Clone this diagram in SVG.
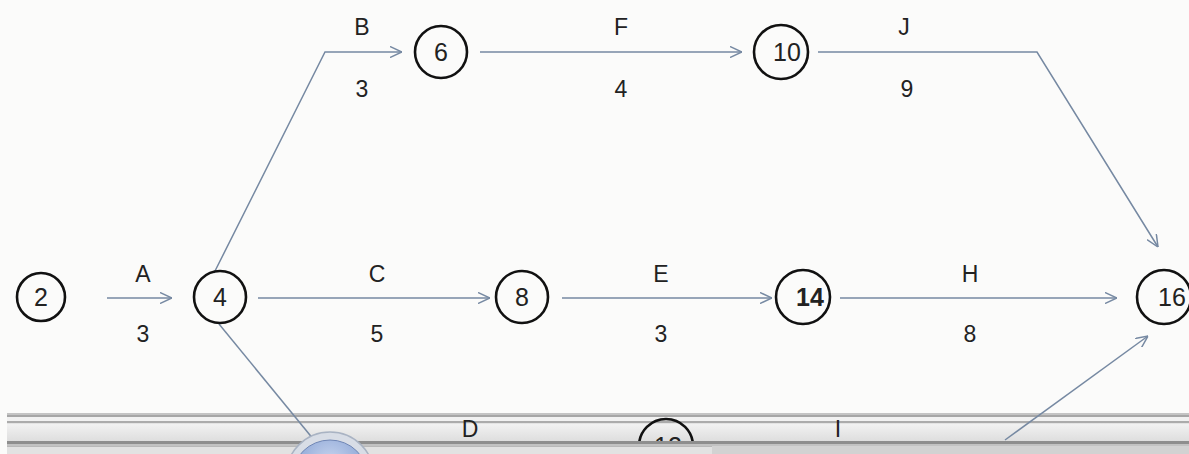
<svg xmlns="http://www.w3.org/2000/svg" width="1189" height="454" viewBox="0 0 1189 454">
<style>
.node circle{fill:none;stroke:#111;stroke-width:2.6}
.num{font-family:"Liberation Sans",Arial,sans-serif;font-size:25px;fill:#222;text-anchor:middle}
.lbl{font-family:"Liberation Sans",Arial,sans-serif;font-size:23px;fill:#222;text-anchor:middle}
.edge{fill:none;stroke:#7689a2;stroke-width:1.5}
</style>
<defs>
<marker id="ah" viewBox="0 0 12 12" refX="12" refY="6" markerWidth="12" markerHeight="12" markerUnits="userSpaceOnUse" orient="auto">
<path d="M0,0.5 L12,6 L0,11.5" fill="none" stroke="#7689a2" stroke-width="1.5"/>
</marker>
<linearGradient id="band" x1="0" y1="0" x2="0" y2="1">
<stop offset="0" stop-color="#f2f2f2"/><stop offset="1" stop-color="#dedede"/>
</linearGradient>
<radialGradient id="orb" cx="0.5" cy="0.3" r="0.6">
<stop offset="0" stop-color="#c9d6ef"/><stop offset="1" stop-color="#7f9bd0"/>
</radialGradient>
<clipPath id="clipTop"><rect x="0" y="0" width="1189" height="441"/></clipPath>
</defs>
<rect width="1189" height="454" fill="#fbfbfa"/>
<g id="bar-back">
<rect x="7" y="413" width="1182" height="2" fill="#c4c4c4"/>
<rect x="7" y="415" width="1182" height="2" fill="#a6a6a6"/>
<rect x="7" y="417" width="1182" height="4" fill="#f1f1f1"/>
<rect x="7" y="421" width="1182" height="2.5" fill="#ababab"/>
<rect x="7" y="423.5" width="1182" height="17.5" fill="url(#band)"/>
</g>
<g clip-path="url(#clipTop)">
<g id="connectors">
<line class="edge" x1="107" y1="298" x2="172" y2="298" marker-end="url(#ah)"/>
<polyline class="edge" points="214,273 325,52 402,52" marker-end="url(#ah)"/>
<line class="edge" x1="258" y1="298" x2="490" y2="298" marker-end="url(#ah)"/>
<line class="edge" x1="219" y1="324" x2="314" y2="440"/>
<line class="edge" x1="480" y1="52" x2="742" y2="52" marker-end="url(#ah)"/>
<polyline class="edge" points="818,52 1037,52 1158,247" marker-end="url(#ah)"/>
<line class="edge" x1="562" y1="298" x2="772" y2="298" marker-end="url(#ah)"/>
<line class="edge" x1="840" y1="298" x2="1117" y2="298" marker-end="url(#ah)"/>
<line class="edge" x1="1005" y1="440" x2="1148" y2="336" marker-end="url(#ah)"/>
</g>
<g id="labels">
<text class="lbl" x="143" y="282">A</text>
<text class="lbl" x="143" y="342">3</text>
<text class="lbl" x="362" y="35">B</text>
<text class="lbl" x="362" y="97">3</text>
<text class="lbl" x="621" y="35">F</text>
<text class="lbl" x="621" y="97">4</text>
<text class="lbl" x="904" y="35">J</text>
<text class="lbl" x="907" y="97">9</text>
<text class="lbl" x="377" y="282">C</text>
<text class="lbl" x="377" y="342">5</text>
<text class="lbl" x="661" y="282">E</text>
<text class="lbl" x="661" y="342">3</text>
<text class="lbl" x="970" y="282">H</text>
<text class="lbl" x="970" y="342">8</text>
<text class="lbl" x="470" y="437">D</text>
<text class="lbl" x="838" y="437">I</text>
</g>
<g id="n2" class="node"><circle cx="41" cy="297" r="24"/><text class="num" x="41" y="306">2</text></g>
<g id="n4" class="node"><circle cx="220" cy="297" r="26"/><text class="num" x="220" y="306">4</text></g>
<g id="n6" class="node"><circle cx="441" cy="52" r="26"/><text class="num" x="441" y="61">6</text></g>
<g id="n10" class="node"><circle cx="781" cy="52" r="27"/><text class="num" x="787" y="61">10</text></g>
<g id="n8" class="node"><circle cx="522" cy="297" r="26"/><text class="num" x="522" y="306">8</text></g>
<g id="n14" class="node"><circle cx="803" cy="297" r="27"/><text class="num" x="810" y="306" font-weight="bold">14</text></g>
<g id="n16" class="node"><circle cx="1164" cy="297" r="27"/><text class="num" x="1172" y="306">16</text></g>
<g id="n12" class="node"><circle cx="666" cy="446" r="27"/><text class="num" x="668" y="455">12</text></g>
</g>
<g id="bar-front">
<rect x="7" y="441" width="1182" height="3" fill="#8e8e8e"/>
<rect x="7" y="444" width="1182" height="2" fill="#c2c2c2"/>
<rect x="7" y="446" width="1182" height="8" fill="#d2d2d2"/>
<rect x="7" y="446" width="705" height="8" fill="#e2e2e2"/>
<rect x="7" y="446" width="705" height="1" fill="#b8b8b8"/>
<circle cx="330" cy="476" r="44" fill="#d8dde6" stroke="#a9b3c3" stroke-width="1.5"/>
<circle cx="330" cy="478" r="38" fill="url(#orb)" stroke="#6f86b5" stroke-width="1"/>
</g>
</svg>
